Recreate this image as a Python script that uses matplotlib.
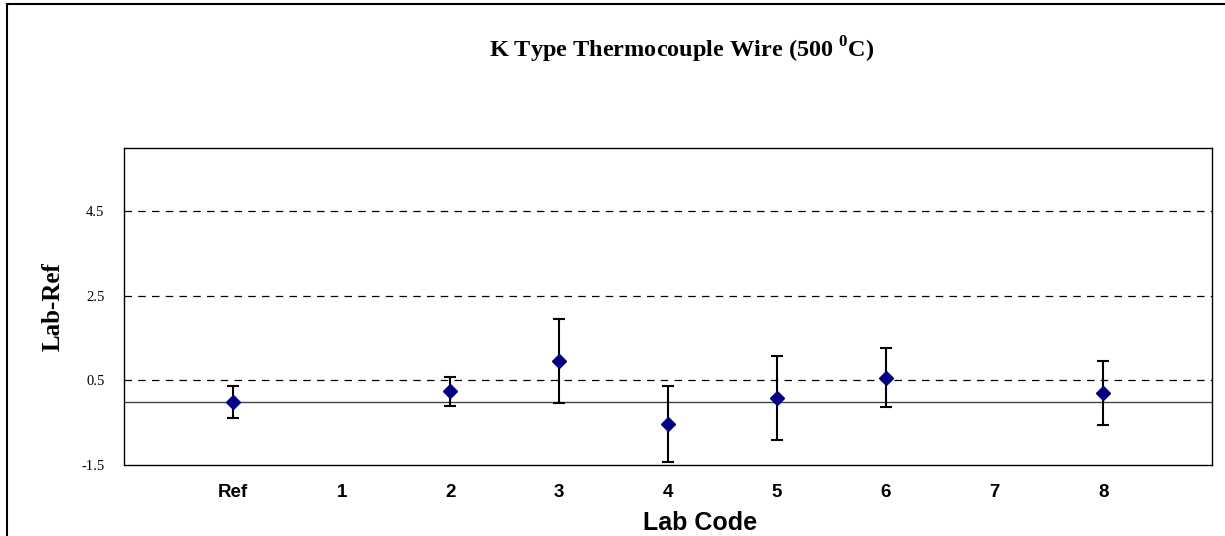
import numpy as np
import matplotlib
matplotlib.use("Agg")
import matplotlib.pyplot as plt
from matplotlib.lines import Line2D

plt.rcParams["mathtext.fontset"] = "custom"
plt.rcParams["mathtext.rm"] = "Liberation Serif"
plt.rcParams["mathtext.bf"] = "Liberation Serif:bold"

# lab codes and measured differences (Lab - Ref) with expanded uncertainty
labs = ["Ref", "1", "2", "3", "4", "5", "6", "7", "8"]
diff = [0.0, np.nan, 0.24, 0.96, -0.54, 0.08, 0.57, np.nan, 0.20]
unc = [0.38, np.nan, 0.35, 1.0, 0.90, 1.0, 0.69, np.nan, 0.75]
yticks = [-1.5, 0.5, 2.5, 4.5]

fig = plt.figure(figsize=(12.25, 5.36), dpi=100)
ax = fig.add_axes([124 / 1225, 1 - 465 / 536, (1212 - 124) / 1225, (465 - 148) / 536])

x = np.arange(1, len(labs) + 1)
ax.errorbar(x, diff, yerr=unc, fmt="D", color="#000080", markersize=7,
            ecolor="black", elinewidth=1.5, capsize=4.5, capthick=1.5, zorder=3)

ax.axhline(0, color="#444444", lw=1, zorder=2)
for yv in yticks[1:]:
    ax.axhline(yv, color="black", lw=0.9, ls=(0, (6, 5)), zorder=1)

ax.set_xlim(0, len(labs) + 1)
ax.set_ylim(-1.5, 6.0)
ax.set_xticks(x)
ax.set_xticklabels(labs, fontfamily="Liberation Sans", fontweight="bold", fontsize=13.5)
ax.set_yticks(yticks)
ax.set_yticklabels([str(v) for v in yticks], fontfamily="Liberation Serif", fontsize=10.5)
ax.tick_params(axis="both", length=0)
ax.tick_params(axis="x", pad=14)
ax.tick_params(axis="y", pad=14)
for s in ax.spines.values():
    s.set_linewidth(1.0)

ax.set_xlabel("Lab Code", fontfamily="Liberation Sans", fontweight="bold", fontsize=18, va="center")
ax.xaxis.set_label_coords((700 - 124) / 1088, (465 - 523) / 317)
ax.set_ylabel("Lab-Ref", fontfamily="Liberation Serif", fontweight="bold", fontsize=18, labelpad=12)

fig.text(682 / 1225, 1 - 50 / 536, r"K Type Thermocouple Wire (500 $^{\mathbf{0}}$C)",
         ha="center", va="center", fontfamily="Liberation Serif", fontweight="bold", fontsize=17.5)

# outer chart frame
fig.add_artist(Line2D([7 / 1225, 1], [1 - 4 / 536, 1 - 4 / 536], color="black", lw=1.5))
fig.add_artist(Line2D([7 / 1225, 7 / 1225], [0, 1 - 4 / 536], color="black", lw=1.5))

fig.savefig("out.png", dpi=100)
